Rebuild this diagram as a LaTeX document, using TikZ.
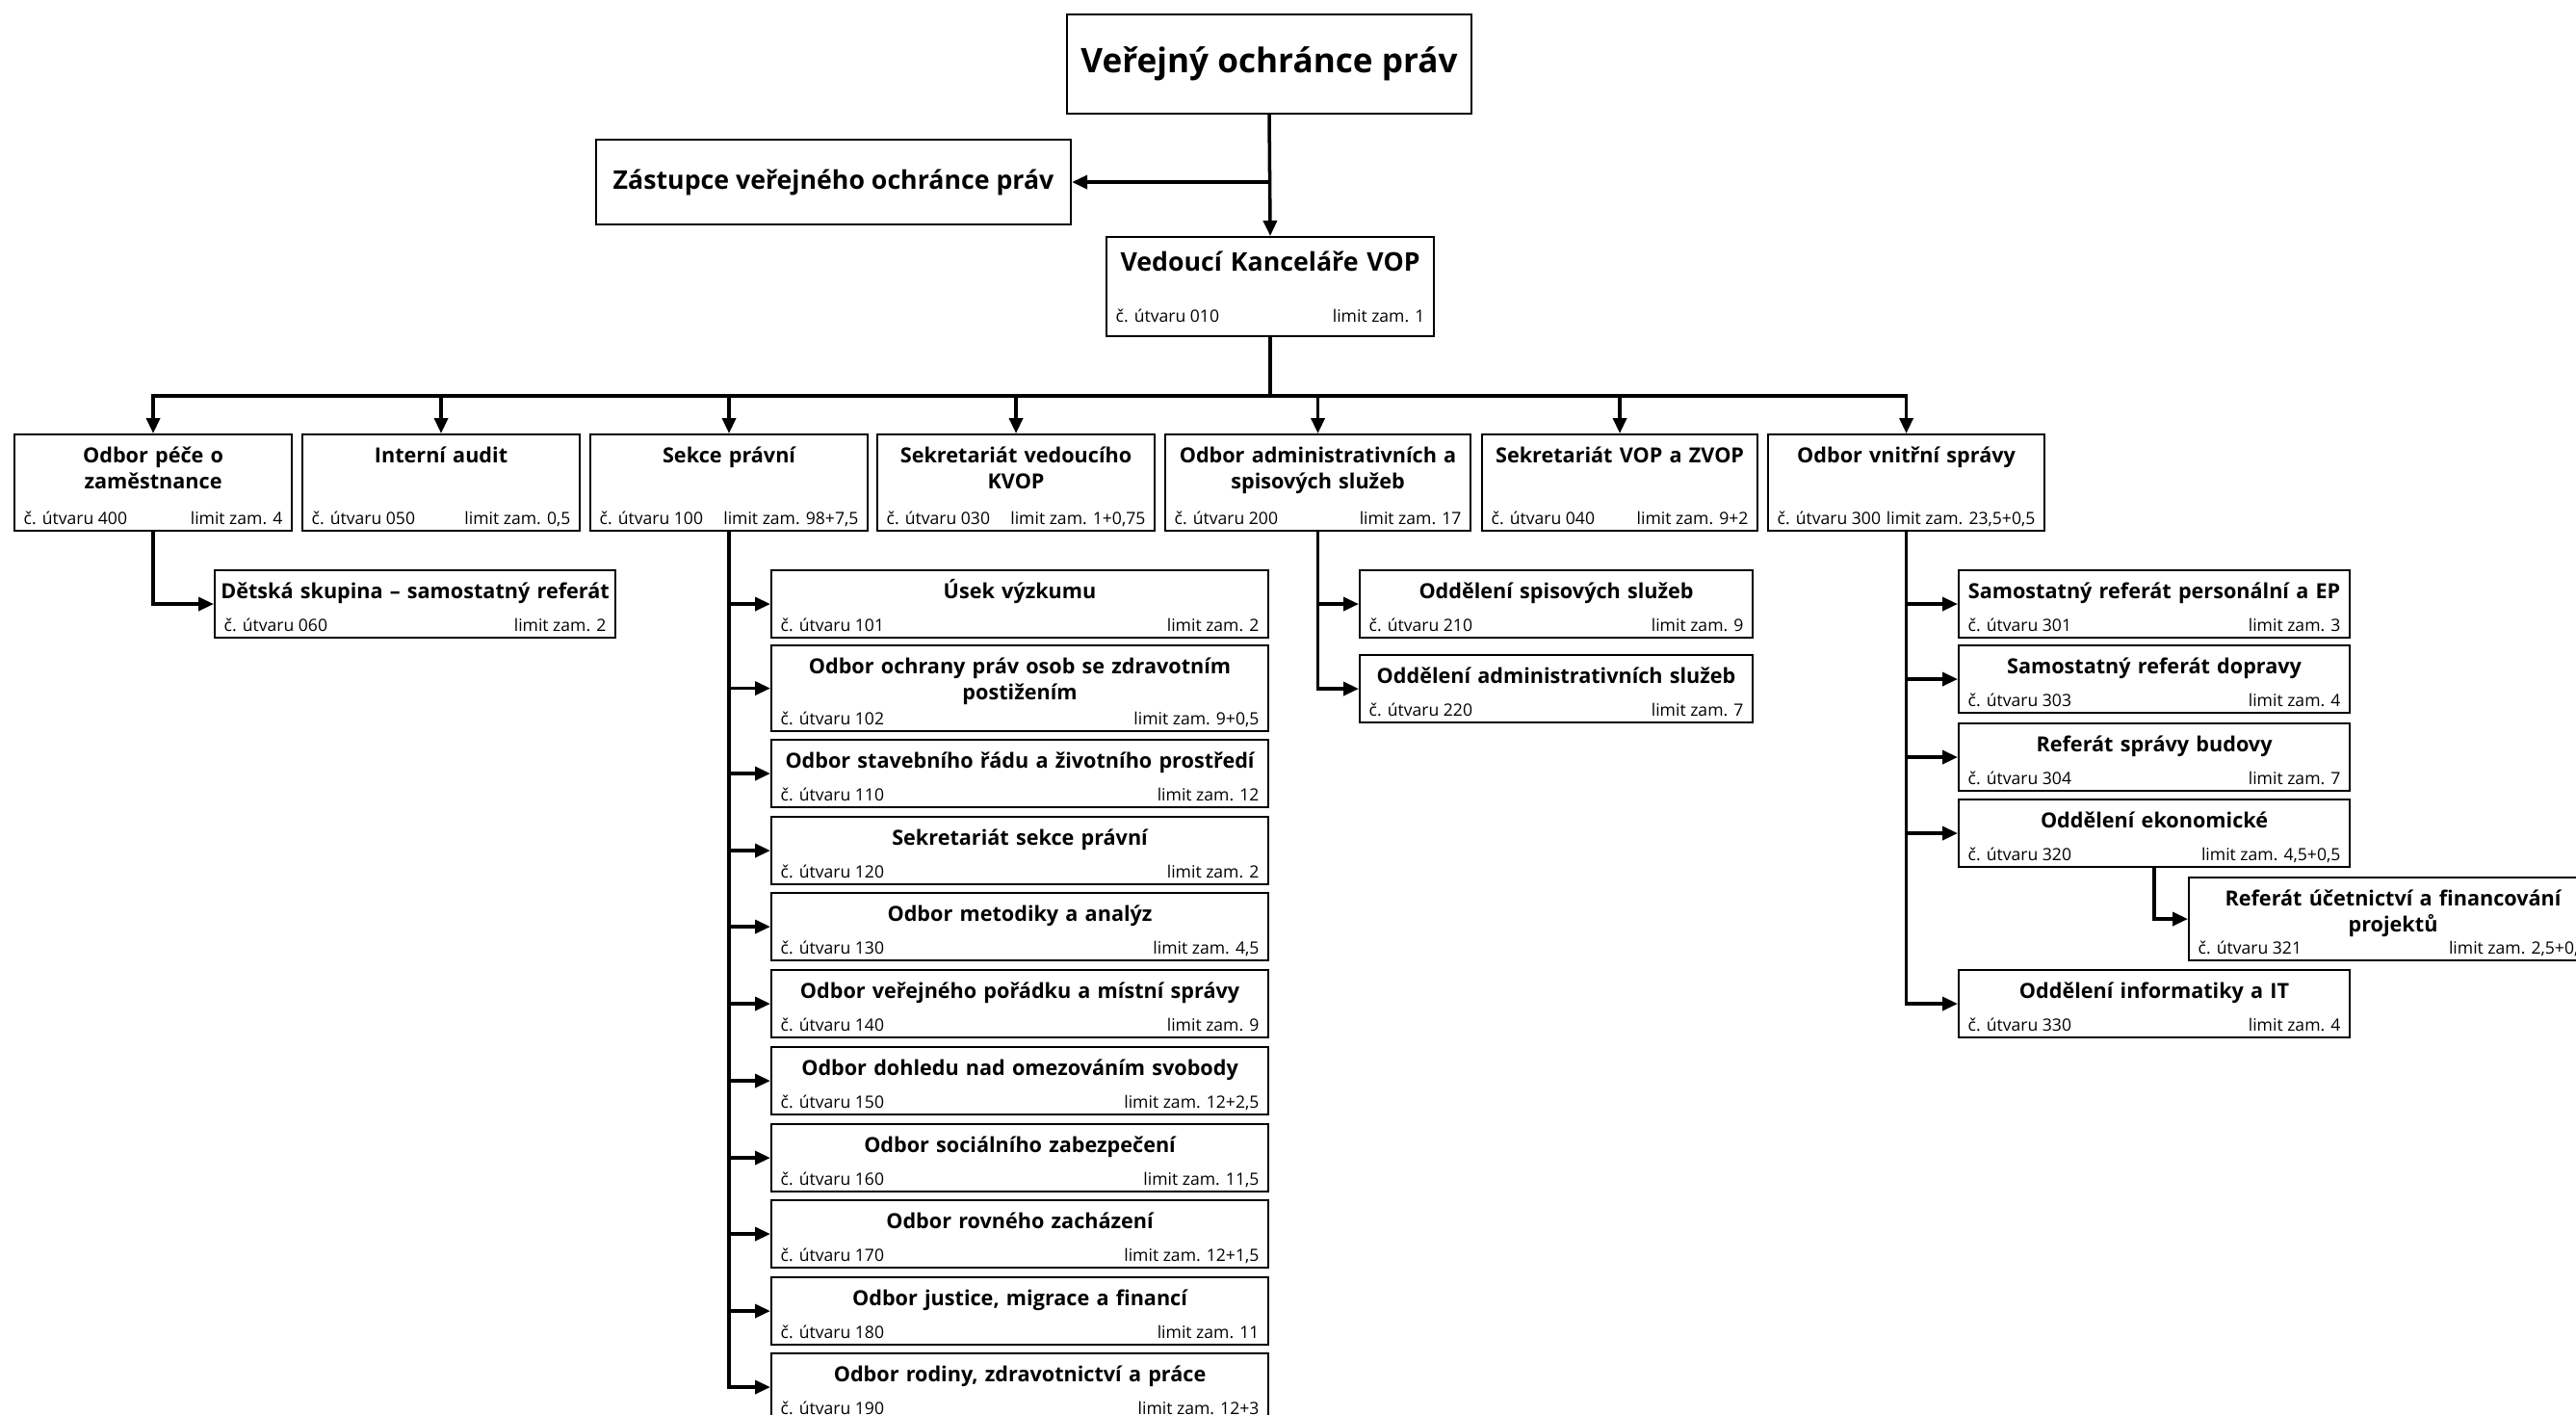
\documentclass[tikz,border=0pt]{standalone}
\usepackage{fontspec}
\setmainfont{Open Sans}
\usetikzlibrary{arrows.meta}

\tikzset{
  unitbox/.style={draw, line width=0.6pt, inner sep=0pt},
  bigtitle/.style={font=\fontsize{7.6}{9}\selectfont\bfseries, align=center, inner sep=0pt, yshift=-0.36cm},
  subtitle/.style={font=\fontsize{6.15}{7.7}\selectfont\bfseries, align=center, inner sep=0pt, yshift=-0.30cm},
  bigtitle num/.style={yshift=0.08cm},
  subtitle num/.style={},
  numtext/.style={font=\fontsize{5}{6}\selectfont, inner sep=0pt},
  link/.style={line width=1pt, -{Triangle[length=0.16cm, width=0.14cm]}},
}

% box of one unit: [title style]{name}{left}{top}{width}{height}{title}{number}{limit}
\newcommand{\utvar}[9][subtitle]{%
  \node[unitbox, minimum width=#5cm, minimum height=#6cm, anchor=north west] (#2) at (#3,#4) {};
  \node[#1, text width=#5cm+1cm, anchor=base] (#2-t) at (#2.north) {#7};
  \node[numtext, #1 num, anchor=base west] (#2-n) at ([shift={(0.1,0.08)}]#2.south west) {č. útvaru #8};
  \node[numtext, #1 num, anchor=base east] (#2-l) at ([shift={(-0.1,0.08)}]#2.south east) {limit zam. #9};
}

\begin{document}
\begin{tikzpicture}
        \useasboundingbox (0,0) rectangle (26.75,-14.68);
        \node[unitbox, minimum width=4.2cm, minimum height=1.03cm, anchor=north, font=\fontsize{10}{12}\selectfont\bfseries] (vop) at (13.18,-0.14) {Veřejný ochránce práv};
        \node[unitbox, minimum width=4.93cm, minimum height=0.88cm, anchor=north west, font=\fontsize{7.6}{9}\selectfont\bfseries] (zast) at (6.18,-1.44) {Zástupce veřejného ochránce práv};
        \utvar[bigtitle]{ved}{11.48}{-2.45}{3.40}{1.03}{Vedoucí Kanceláře VOP}{010}{1}

        % second level
        \utvar{pece}{0.14}{-4.50}{2.88}{1.00}{Odbor péče o\\zaměstnance}{400}{4}
        \utvar{audit}{3.13}{-4.50}{2.88}{1.00}{Interní audit}{050}{0,5}
        \utvar{sekce}{6.12}{-4.50}{2.88}{1.00}{Sekce právní}{100}{98+7,5}
        \utvar{kvop}{9.10}{-4.50}{2.88}{1.00}{Sekretariát vedoucího\\KVOP}{030}{1+0,75}
        \utvar{admin}{12.09}{-4.50}{3.17}{1.00}{Odbor administrativních a\\spisových služeb}{200}{17}
        \utvar{zvop}{15.38}{-4.50}{2.86}{1.00}{Sekretariát VOP a ZVOP}{040}{9+2}
        \utvar{vnitrni}{18.35}{-4.50}{2.87}{1.00}{Odbor vnitřní správy}{300}{23,5+0,5}

        \utvar{detska}{2.22}{-5.91}{4.16}{0.70}{Dětská skupina – samostatný referát}{060}{2}

        % sekce pravni
        \utvar{vyzkum}{8.00}{-5.91}{5.16}{0.70}{Úsek výzkumu}{101}{2}
        \utvar{ozp}{8.00}{-6.69}{5.16}{0.89}{Odbor ochrany práv osob se zdravotním\\postižením}{102}{9+0,5}
        \utvar{stavebni}{8.00}{-7.67}{5.16}{0.70}{Odbor stavebního řádu a životního prostředí}{110}{12}
        \utvar{sekretariat}{8.00}{-8.47}{5.16}{0.70}{Sekretariát sekce právní}{120}{2}
        \utvar{metodika}{8.00}{-9.26}{5.16}{0.70}{Odbor metodiky a analýz}{130}{4,5}
        \utvar{poradek}{8.00}{-10.06}{5.16}{0.70}{Odbor veřejného pořádku a místní správy}{140}{9}
        \utvar{dohled}{8.00}{-10.86}{5.16}{0.70}{Odbor dohledu nad omezováním svobody}{150}{12+2,5}
        \utvar{socialni}{8.00}{-11.66}{5.16}{0.70}{Odbor sociálního zabezpečení}{160}{11,5}
        \utvar{rovne}{8.00}{-12.45}{5.16}{0.70}{Odbor rovného zacházení}{170}{12+1,5}
        \utvar{justice}{8.00}{-13.25}{5.16}{0.70}{Odbor justice, migrace a financí}{180}{11}
        \utvar{rodina}{8.00}{-14.04}{5.16}{0.70}{Odbor rodiny, zdravotnictví a práce}{190}{12+3}

        % odbor administrativnich a spisovych sluzeb
        \utvar{spisove}{14.11}{-5.91}{4.08}{0.70}{Oddělení spisových služeb}{210}{9}
        \utvar{administrativni}{14.11}{-6.79}{4.08}{0.70}{Oddělení administrativních služeb}{220}{7}

        % odbor vnitrni spravy
        \utvar{personalni}{20.33}{-5.91}{4.06}{0.70}{Samostatný referát personální a EP}{301}{3}
        \utvar{doprava}{20.33}{-6.69}{4.06}{0.70}{Samostatný referát dopravy}{303}{4}
        \utvar{budova}{20.33}{-7.50}{4.06}{0.70}{Referát správy budovy}{304}{7}
        \utvar{ekonomicke}{20.33}{-8.29}{4.06}{0.70}{Oddělení ekonomické}{320}{4,5+0,5}
        \utvar{ucetnictvi}{22.72}{-9.10}{4.24}{0.86}{Referát účetnictví a financování\\projektů}{321}{2,5+0,5}
        \utvar{informatika}{20.33}{-10.06}{4.06}{0.70}{Oddělení informatiky a IT}{330}{4}

        % connectors
        \draw[link] (vop.south) -- (ved.north);
        \draw[link] (vop.south |- zast.east) -- (zast.east);
        \coordinate (bus) at (13.18,-4.11);
        \foreach \n in {pece,audit,sekce,kvop,admin,zvop,vnitrni}
            \draw[link] (ved.south) -- (ved.south |- bus) -| (\n.north);
        \draw[link] (pece.south) |- (detska.west);
        \foreach \n in {vyzkum,ozp,stavebni,sekretariat,metodika,poradek,dohled,socialni,rovne,justice,rodina}
            \draw[link] (sekce.south) |- (\n.west);
        \foreach \n in {spisove,administrativni}
            \draw[link] (admin.south) |- (\n.west);
        \foreach \n in {personalni,doprava,budova,ekonomicke,informatika}
            \draw[link] (vnitrni.south) |- (\n.west);
        \draw[link] (ekonomicke.south) |- (ucetnictvi.west);
    \end{tikzpicture}
\end{document}
